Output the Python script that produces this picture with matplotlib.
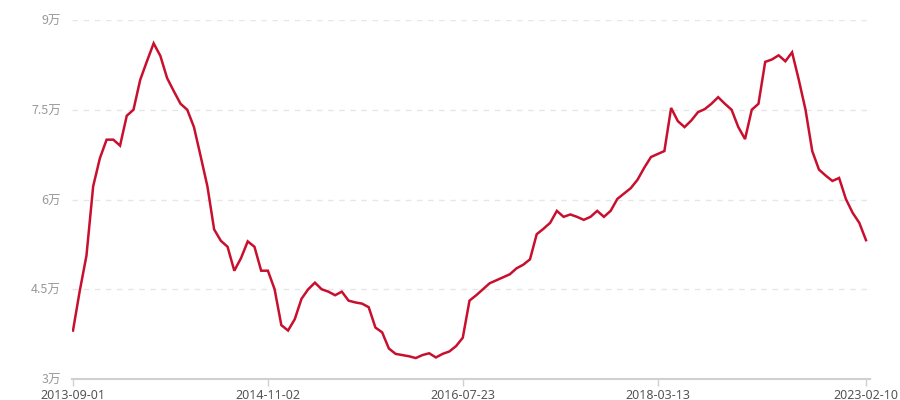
import matplotlib
matplotlib.use("Agg")
import matplotlib.pyplot as plt
from matplotlib.ticker import FixedLocator

plt.rcParams['font.family'] = ['Noto Sans CJK SC', 'DejaVu Sans']

# Series values (unit: 万), one per category point
values = [
    3.81, 4.47, 5.06, 6.22, 6.69, 7.00, 7.00, 6.90, 7.40, 7.50,
    8.00, 8.31, 8.61, 8.40, 8.03, 7.81, 7.60, 7.50, 7.21, 6.72,
    6.22, 5.50, 5.31, 5.21, 4.81, 5.02, 5.30, 5.21, 4.81, 4.81,
    4.50, 3.90, 3.81, 4.00, 4.34, 4.50, 4.61, 4.50, 4.46, 4.40,
    4.46, 4.31, 4.28, 4.26, 4.20, 3.86, 3.78, 3.51, 3.42, 3.40,
    3.38, 3.35, 3.40, 3.43, 3.36, 3.42, 3.46, 3.55, 3.69, 4.31,
    4.40, 4.50, 4.60, 4.65, 4.70, 4.75, 4.85, 4.91, 5.00, 5.42,
    5.51, 5.61, 5.81, 5.71, 5.75, 5.71, 5.66, 5.71, 5.81, 5.71,
    5.81, 6.01, 6.10, 6.19, 6.33, 6.53, 6.71, 6.76, 6.81, 7.53,
    7.31, 7.21, 7.32, 7.46, 7.51, 7.60, 7.71, 7.60, 7.50, 7.21,
    7.01, 7.50, 7.60, 8.30, 8.34, 8.41, 8.31, 8.46, 8.00, 7.50,
    6.81, 6.50, 6.40, 6.31, 6.36, 6.01, 5.78, 5.61, 5.32,
]

# Category tick labels shown on the x axis and their category indices
tick_index = [0, 29, 58, 87, 118]
tick_labels = ["2013-09-01", "2014-11-02", "2016-07-23", "2018-03-13", "2023-02-10"]

y_ticks = [3, 4.5, 6, 7.5, 9]
y_tick_labels = ["3万", "4.5万", "6万", "7.5万", "9万"]

fig = plt.figure(figsize=(9, 4), dpi=100)
ax = fig.add_axes([72 / 900, 1 - 379 / 400, 798 / 900, 359 / 400])

x = list(range(len(values)))
ax.plot(x, values, color="#c8102e", linewidth=1.8, solid_joinstyle="miter", zorder=3)

ax.set_xlim(-1 / 6.72, 118 + 4 / 6.72)
ax.set_ylim(3, 9)

# grid lines
for yv in y_ticks[1:]:
    ax.axhline(yv, color="#e6e6e6", linewidth=1, linestyle=(0, (4, 4)), zorder=1)

for s in ["top", "right", "left"]:
    ax.spines[s].set_visible(False)
ax.spines["bottom"].set_color("#d0d0d0")
ax.spines["bottom"].set_linewidth(1.5)

ax.yaxis.set_major_locator(FixedLocator(y_ticks))
ax.set_yticklabels(y_tick_labels)
ax.tick_params(axis="y", length=0, pad=8, labelsize=9, labelcolor="#999999")

ax.xaxis.set_major_locator(FixedLocator(tick_index))
ax.set_xticklabels(tick_labels, family=["Noto Sans", "DejaVu Sans"])
ax.tick_params(axis="x", length=5, width=1, color="#d0d0d0", pad=2,
               labelsize=9, labelcolor="#555555")

fig.savefig("out.png", dpi=100)
